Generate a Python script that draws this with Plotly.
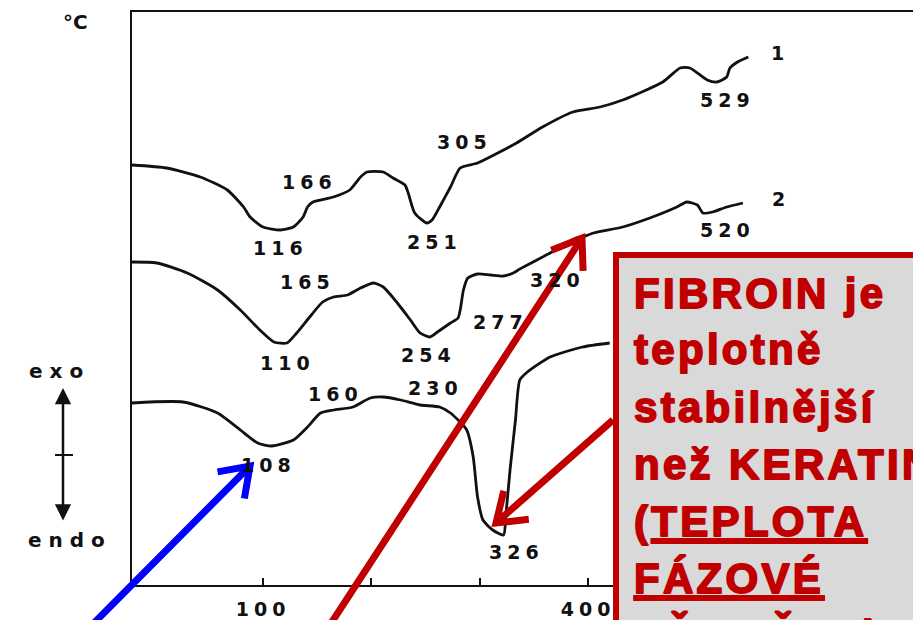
import math
import plotly.graph_objects as go

# ---- DTA curves: temperature (°C) vs. differential signal (arbitrary units, offset curves) ----
temp_1 = [-21, 11, 42, 67, 82, 88, 100, 116, 128, 137, 141, 146, 165, 180, 190, 196, 211, 220,
          231, 234, 240, 251, 256, 263, 273, 282, 298, 334, 358, 386, 411, 432, 469, 485, 494,
          510, 519, 528, 531, 538, 548]
dta_1 = [420, 417, 408, 395, 378, 368, 358, 355, 358, 368, 378, 383, 388, 395, 408, 413, 413, 407,
         400, 392, 372, 362, 365, 378, 398, 417, 422, 442, 458, 473, 478, 485, 503, 517, 517,
         505, 503, 508, 517, 523, 528]

temp_2 = [-21, 2, 30, 58, 79, 97, 110, 122, 131, 143, 155, 165, 178, 190, 202, 211, 224, 236,
          245, 254, 261, 273, 280, 282, 285, 289, 298, 310, 322, 331, 337, 365, 389, 395, 405,
          432, 457, 482, 491, 501, 506, 515, 528, 543]
dta_2 = [323, 322, 312, 295, 275, 255, 243, 242, 252, 268, 283, 288, 290, 297, 302, 298, 282, 265,
         252, 248, 253, 262, 267, 275, 295, 307, 311, 310, 309, 312, 316, 332, 347, 348, 352,
         358, 367, 378, 383, 380, 372, 373, 378, 382]

temp_3 = [-21, 26, 58, 79, 95, 108, 128, 141, 153, 165, 183, 199, 211, 227, 245, 263, 273, 288,
          294, 298, 303, 312, 322, 324, 328, 333, 337, 344, 365, 395, 420]
dta_3 = [182, 183, 172, 155, 142, 139, 145, 158, 172, 175, 178, 187, 188, 185, 180, 178, 172, 155,
         128, 88, 65, 55, 50, 68, 115, 165, 205, 213, 228, 238, 242]

# peak temperatures written next to each curve, and the curve numbers
labels_1 = ["166", "116", "251", "305", "529", "1"]
labels_2 = ["165", "110", "254", "277", "320", "520", "2"]
labels_3 = ["160", "230", "108", "326"]

tick_values = [100, 200, 300, 400, 500, 600, 700]
tick_labels = ["100", "", "", "400", "", "", "700"]

note_lines = ["FIBROIN je", "teplotně", "stabilnější", "než KERATIN",
              "(<u>TEPLOTA</u>", "<u>FÁZOVÉ</u>", "<u>PŘEMĚNY</u>)"]

# ---- layout geometry ----
FIG_W, FIG_H = 913, 620
L, TOP, W, H = 132, 12, 781, 573
X_RANGE = [-21, 700]
Y_RANGE = [0, 573]
INK = "#111111"
RED = "#c00000"
BLUE = "#0000ff"
NUM_FONT = dict(family="DejaVu Sans", size=19, color=INK, weight="bold")
NOTE_FONT = dict(family="Liberation Sans, Arial", size=42, color=RED, weight="bold")


def spaced(txt, gap=5):
    return f'<span style="letter-spacing:{gap}px">{txt}</span>'


def heavy(txt):
    return (f'<span style="letter-spacing:3.3px;stroke:{RED};stroke-width:1.8px;'
            f'stroke-linejoin:round">{txt}</span>')


def paper(px, py):
    return (px - L) / W, (TOP + H - py) / H


def arrow_path(tail, tip, head=33, spread=35):
    ux, uy = tail[0] - tip[0], tail[1] - tip[1]
    n = math.hypot(ux, uy)
    ux, uy = ux / n, uy / n
    a = math.radians(spread)
    arms = []
    for s in (1, -1):
        c, sn = math.cos(a), math.sin(s * a)
        arms.append((tip[0] + head * (ux * c - uy * sn), tip[1] + head * (ux * sn + uy * c)))
    pts = [tail, tip, arms[0], tip, arms[1]]
    p = [paper(*q) for q in pts]
    return (f"M {p[0][0]},{p[0][1]} L {p[1][0]},{p[1][1]} "
            f"M {p[2][0]},{p[2][1]} L {p[3][0]},{p[3][1]} L {p[4][0]},{p[4][1]}")


fig = go.Figure()
for t, d in ((temp_1, dta_1), (temp_2, dta_2), (temp_3, dta_3)):
    fig.add_trace(go.Scatter(x=t, y=d, mode="lines",
                             line=dict(color=INK, width=2.8, shape="spline", smoothing=0.6),
                             hoverinfo="skip", showlegend=False))

# label anchors (temperature, signal)
label_pos_1 = [(141, 403), (114, 337), (256, 343), (284, 443), (527, 485), (575, 532)]
label_pos_2 = [(139, 303), (121, 222), (251, 230), (317, 263), (370, 305), (527, 355), (576, 386)]
label_pos_3 = [(165, 191), (257, 197), (103, 120), (332, 33)]

annotations = []
for texts, poss in ((labels_1, label_pos_1), (labels_2, label_pos_2), (labels_3, label_pos_3)):
    for txt, (x, y) in zip(texts, poss):
        annotations.append(dict(x=x, y=y, xref="x", yref="y", text=spaced(txt), showarrow=False,
                                font=NUM_FONT, xanchor="center", yanchor="middle", xshift=2))

# side legend: °C, exo / endo with a double arrow
annotations.append(dict(x=paper(75, 22)[0], y=paper(75, 22)[1], xref="paper", yref="paper",
                        text="°C", showarrow=False,
                        font=dict(family="DejaVu Sans", size=20, color=INK, weight="bold"),
                        xanchor="center", yanchor="middle"))
for txt, (px, py) in (("exo", (56, 371)), ("endo", (67, 540))):
    annotations.append(dict(x=paper(px, py)[0], y=paper(px, py)[1], xref="paper", yref="paper",
                            text=spaced(txt, 7), showarrow=False,
                            font=dict(family="DejaVu Sans", size=20, color=INK, weight="bold"),
                            xanchor="center", yanchor="middle", xshift=3))
annotations.append(dict(x=paper(63, 388)[0], y=paper(63, 388)[1], xref="paper", yref="paper",
                        text="", showarrow=True, ax=0, ay=134, arrowside="end+start",
                        arrowhead=2, arrowsize=1.3, arrowwidth=2.5, arrowcolor=INK, standoff=0,
                        startstandoff=0))

# text in the note box
for i, line in enumerate(note_lines):
    base = 308 + 57 * i
    annotations.append(dict(x=paper(632, 0)[0], y=paper(0, base - 15)[1], xref="paper", yref="paper",
                            text=heavy(line), showarrow=False, xanchor="left",
                            yanchor="middle", font=NOTE_FONT))

bx0, by0 = paper(616, 255)
bx1, by1 = paper(980, 680)
shapes = [
    dict(type="rect", xref="paper", yref="paper", x0=bx0, y0=by0, x1=bx1, y1=by1,
         line=dict(color=RED, width=6), fillcolor="#d9d9d9", layer="above"),
    dict(type="line", xref="paper", yref="paper", x0=paper(55, 455)[0], x1=paper(73, 455)[0],
         y0=paper(55, 455)[1], y1=paper(73, 455)[1], line=dict(color=INK, width=2)),
    dict(type="path", xref="paper", yref="paper", path=arrow_path((613, 420), (496, 523)),
         line=dict(color=RED, width=7), layer="above"),
    dict(type="path", xref="paper", yref="paper", path=arrow_path((328, 628), (582, 238)),
         line=dict(color=RED, width=7), layer="above"),
    dict(type="path", xref="paper", yref="paper", path=arrow_path((92, 625), (250, 466)),
         line=dict(color=BLUE, width=7), layer="above"),
]

fig.update_layout(
    width=FIG_W, height=FIG_H,
    margin=dict(l=L, r=FIG_W - L - W, t=TOP, b=FIG_H - TOP - H),
    paper_bgcolor="white", plot_bgcolor="white",
    xaxis=dict(range=X_RANGE, showgrid=False, zeroline=False, showline=True, linecolor=INK,
               linewidth=2, mirror=True, ticks="inside", ticklen=7, tickwidth=2, tickcolor=INK,
               tickvals=tick_values, ticktext=[spaced(t) for t in tick_labels],
               tickfont=NUM_FONT, ticklabelstandoff=6, fixedrange=True),
    yaxis=dict(range=Y_RANGE, showgrid=False, zeroline=False, showline=True, linecolor=INK,
               linewidth=2, showticklabels=False, ticks="", fixedrange=True),
    annotations=annotations,
    shapes=shapes,
)

fig.write_html("out.html")
